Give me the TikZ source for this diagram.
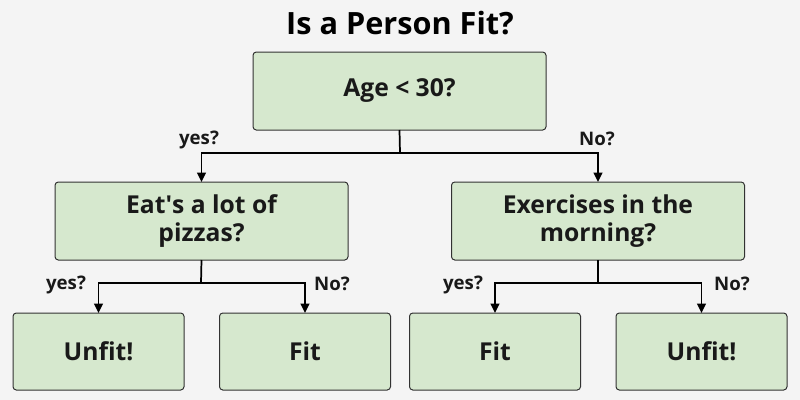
\documentclass[tikz,border=0pt]{standalone}
\usepackage{fontspec}
\setmainfont{Open Sans}
\usetikzlibrary{arrows.meta}

\definecolor{bgcol}{RGB}{244,244,244}
\definecolor{boxfill}{RGB}{214,232,206}
\definecolor{boxline}{RGB}{50,50,50}

\tikzset{
  box/.style={draw=boxline, fill=boxfill, line width=0.75pt, rounded corners=2.5pt,
    inner sep=0pt, outer sep=0pt, align=center, text=black!90,
    font=\fontsize{18.5}{21}\selectfont\bfseries},
  bigbox/.style={box, minimum width=219.75pt, minimum height=58.5pt},
  leafbox/.style={box, minimum width=128.25pt, minimum height=57.75pt},
  conn/.style={line width=1.3pt, black},
  arr/.style={conn, -{Triangle[length=7pt,width=6.5pt]}},
  lbl/.style={font=\fontsize{14}{16}\selectfont\bfseries, text=black!90}
}

\begin{document}
\begin{tikzpicture}[x=0.75pt,y=0.75pt,yscale=-1,xscale=1]
\fill[bgcol] (0,0) rectangle (800,400);
\useasboundingbox (0,0) rectangle (800,400);

\node[font=\fontsize{23}{26}\selectfont\bfseries] (title) at (400,23) {Is a Person Fit?};

%first question
\node[bigbox] (age) at (399.5,91) {Age < 30?};

%second row
\node[bigbox] (pizza) at (201.5,221) {Eat\textquotesingle s a lot of\\pizzas?};
\node[bigbox] (morning) at (598,221) {Exercises in the\\morning?};

%leaves
\node[leafbox] (unfitA) at (98.5,351.5) {Unfit!};
\node[leafbox] (fitA) at (305,351.5) {Fit};
\node[leafbox] (fitB) at (495,351.5) {Fit};
\node[leafbox] (unfitB) at (701.5,351.5) {Unfit!};

\coordinate (split0) at (400,153);
\coordinate (split1) at (201,283);
\coordinate (split2) at (598,283);

\draw[conn] (age.south) -- (split0);
\draw[arr] (split0) -| (pizza.north);
\draw[arr] (split0) -| (morning.north);

\draw[conn] (pizza.south) -- (split1);
\draw[arr] (split1) -| (unfitA.north);
\draw[arr] (split1) -| (fitA.north);

\draw[conn] (morning.south) -- (split2);
\draw[arr] (split2) -| (fitB.north);
\draw[arr] (split2) -| (unfitB.north);

\node[lbl] (yes0) at (199,140) {yes?};
\node[lbl] (no0) at (597,139) {No?};
\node[lbl] (yes1) at (66,285) {yes?};
\node[lbl] (no1) at (332,284) {No?};
\node[lbl] (yes2) at (463,285) {yes?};
\node[lbl] (no2) at (732,284) {No?};

\end{tikzpicture}
\end{document}
